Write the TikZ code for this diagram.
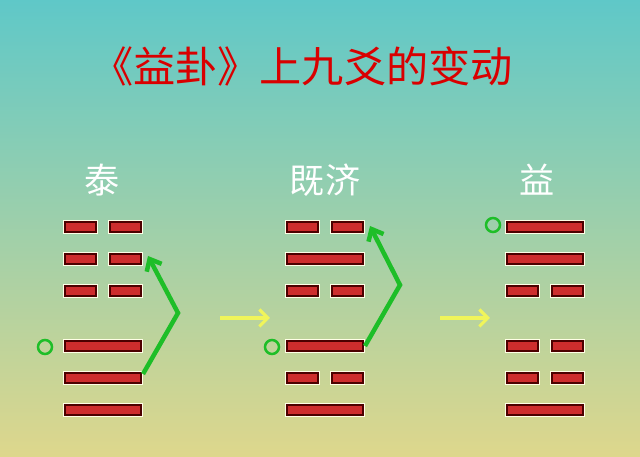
\documentclass[tikz,border=0pt]{standalone}
\usepackage{fontspec}
\newfontfamily\cjk{Noto Sans CJK SC}
\usetikzlibrary{arrows.meta}
\definecolor{barred}{RGB}{205,45,45}
\definecolor{bgtop}{RGB}{95,200,200}
\definecolor{bgbot}{RGB}{222,215,140}
\definecolor{movegreen}{RGB}{30,190,40}
\definecolor{stepyellow}{RGB}{240,245,90}
\tikzset{
  bar/.style={draw=black!70!red, fill=barred, line width=0.8pt},
  glow/.style={draw=white!90!yellow, line width=3pt},
  ring/.style={draw=movegreen, line width=1.8pt},
  move/.style={draw=movegreen, line width=3.2pt, -{Straight Barb[length=7pt,width=12pt]}},
  change/.style={draw=stepyellow, line width=2.2pt, -{Straight Barb[length=6pt,width=12pt]}},
  title/.style={text=red!85!black, font=\cjk\fontsize{30}{30}\selectfont},
  hexname/.style={text=white, font=\cjk\fontsize{25}{25}\selectfont}
}
% #1 left x, #2 y
\newcommand\yang[2]{\path[glow] (#1,#2-5) rectangle ++(76,10);
  \path[bar] (#1,#2-5) rectangle ++(76,10);}
\newcommand\yin[2]{\path[glow] (#1,#2-5) rectangle ++(31,10);
  \path[glow] (#1+45,#2-5) rectangle ++(31,10);
  \path[bar] (#1,#2-5) rectangle ++(31,10);
  \path[bar] (#1+45,#2-5) rectangle ++(31,10);}
\begin{document}
\begin{tikzpicture}[x=0.025cm,y=-0.025cm]
\shade[top color=bgtop, bottom color=bgbot] (0,0) rectangle (640,457);
\useasboundingbox (0,0) rectangle (640,457);

\node[title] (tt) at (302,66) {《益卦》上九爻的变动};
\node[hexname] (tai) at (102,180) {泰};
\node[hexname] (jiji) at (325,180) {既济};
\node[hexname] (yi) at (537,180) {益};

% tai
\yin{65}{227} \yin{65}{259} \yin{65}{291}
\yang{65}{346} \yang{65}{378} \yang{65}{410}
% jiji
\yin{287}{227} \yang{287}{259} \yin{287}{291}
\yang{287}{346} \yin{287}{378} \yang{287}{410}
% yi
\yang{507}{227} \yang{507}{259} \yin{507}{291}
\yin{507}{346} \yin{507}{378} \yang{507}{410}

\draw[ring] (45,347) circle (7);
\draw[ring] (272,347) circle (7);
\draw[ring] (493,225) circle (7);

\coordinate (a0) at (143,374); \coordinate (a1) at (178,313); \coordinate (a2) at (148,256);
\coordinate (b0) at (365,346); \coordinate (b1) at (400,285); \coordinate (b2) at (370,226);
\draw[move] (a0) -- (a1) -- (a2);
\draw[move] (b0) -- (b1) -- (b2);

\coordinate (s0) at (220,318); \coordinate (s1) at (270,318);
\coordinate (t0) at (440,318); \coordinate (t1) at (490,318);
\draw[change] (s0) -- (s1);
\draw[change] (t0) -- (t1);
\end{tikzpicture}
\end{document}
